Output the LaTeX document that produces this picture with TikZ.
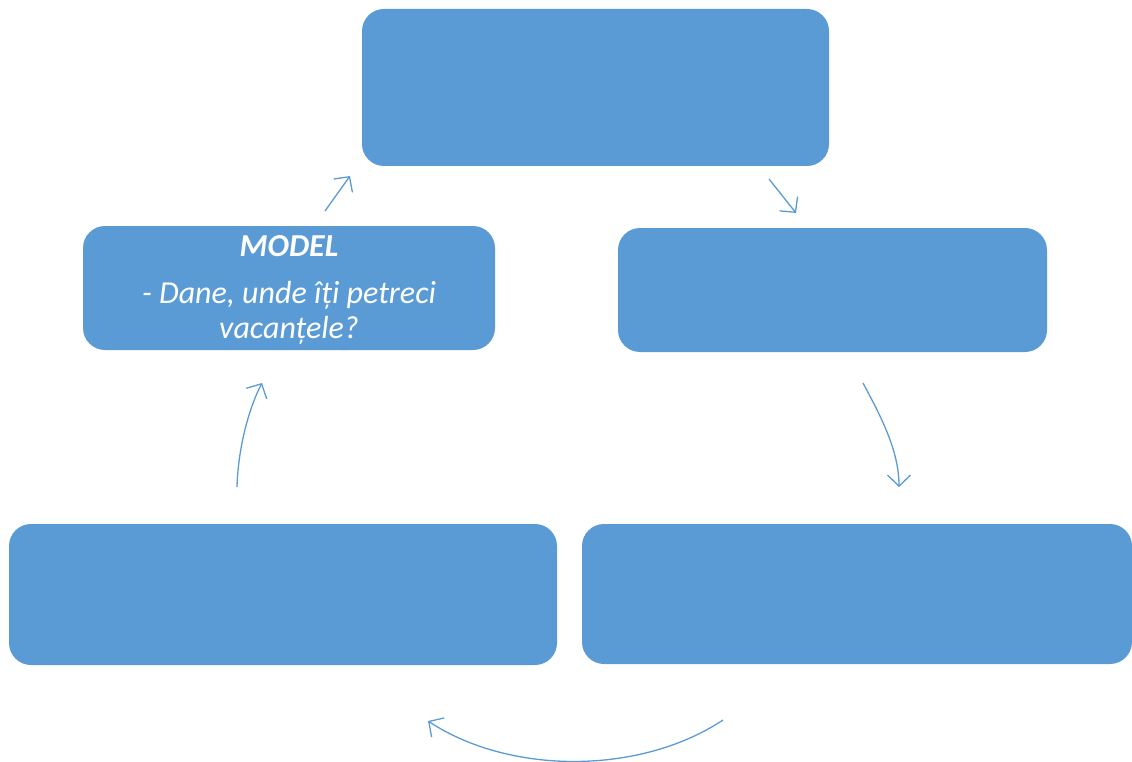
\documentclass[tikz,border=0pt]{standalone}
\usepackage{fontspec}
\setmainfont{Carlito}
\usetikzlibrary{arrows.meta}
\definecolor{boxblue}{HTML}{5B9BD5}
\tikzset{
  box/.style={fill=boxblue, draw=none, rounded corners=22pt, inner sep=0pt},
  boxtext/.style={text=white, inner sep=0pt, anchor=base, font=\fontsize{32pt}{35pt}\selectfont\itshape},
  conn/.style={draw=boxblue, line width=1.3pt, -{Straight Barb[length=11pt,width=23pt,line width=1.3pt]}}
}
\begin{document}
\begin{tikzpicture}[x=1pt,y=-1pt]
\useasboundingbox (0,0) rectangle (1132,762);
\node[box, minimum width=467pt, minimum height=157pt] (top) at (595.5,87.5) {};
\node[box, minimum width=412pt, minimum height=124pt] (model) at (289,288) {};
\node[box, minimum width=429pt, minimum height=124pt] (midr) at (832.5,290) {};
\node[box, minimum width=548pt, minimum height=141pt] (botl) at (283,594.5) {};
\node[box, minimum width=550pt, minimum height=140pt] (botr) at (857,594) {};

\node[boxtext] (t1) at (289,256) {\textbf{MODEL}};
\node[boxtext] (t2) at (289,303) {- Dane, unde îți petreci};
\node[boxtext] (t3) at (289,338) {vacanțele?};

\coordinate (a1s) at (325,211); \coordinate (a1e) at (350,176);
\coordinate (a2s) at (769,179); \coordinate (a2e) at (796,213);
\coordinate (a3s) at (863,383); \coordinate (a3e) at (899,487);
\coordinate (a4s) at (237,487); \coordinate (a4e) at (262,383);
\coordinate (a5s) at (723,720); \coordinate (a5e) at (428,721);

\draw[conn] (a1s) -- (a1e);
\draw[conn] (a2s) -- (a2e);
\draw[conn] (a3s) .. controls (880,415) and (899,450) .. (a3e);
\draw[conn] (a4s) .. controls (238,450) and (248,410) .. (a4e);
\draw[conn] (a5s) .. controls (640,775) and (510,775) .. (a5e);
\end{tikzpicture}
\end{document}
